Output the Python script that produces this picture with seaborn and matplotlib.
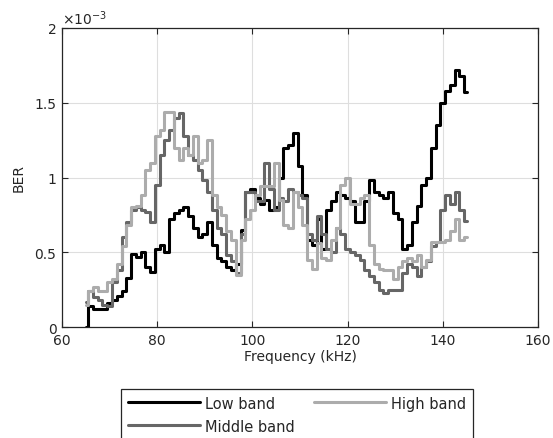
import matplotlib
matplotlib.use("Agg")
import matplotlib.pyplot as plt
import seaborn as sns
import pandas as pd

# frequency grid (kHz) and BER values (x 1e-3)
freq = list(range(65, 146))

low_band = [
    0.00, 0.14, 0.12, 0.12, 0.12, 0.16, 0.18, 0.21, 0.24, 0.33,
    0.49, 0.47, 0.50, 0.40, 0.37, 0.52, 0.55, 0.50, 0.72, 0.76,
    0.78, 0.80, 0.74, 0.66, 0.60, 0.62, 0.70, 0.55, 0.46, 0.44,
    0.40, 0.38, 0.42, 0.65, 0.90, 0.92, 0.86, 0.82, 0.85, 0.78,
    0.80, 1.00, 1.20, 1.22, 1.30, 1.08, 0.88, 0.58, 0.55, 0.72,
    0.52, 0.78, 0.84, 0.90, 0.88, 0.86, 0.84, 0.70, 0.70, 0.84,
    0.98, 0.90, 0.88, 0.86, 0.90, 0.76, 0.72, 0.52, 0.55, 0.70,
    0.81, 0.95, 1.00, 1.20, 1.35, 1.50, 1.58, 1.62, 1.72, 1.68,
    1.57,
]

middle_band = [
    0.17, 0.24, 0.20, 0.18, 0.15, 0.14, 0.30, 0.38, 0.60, 0.70,
    0.78, 0.80, 0.78, 0.77, 0.70, 0.95, 1.15, 1.25, 1.32, 1.40,
    1.43, 1.28, 1.15, 1.12, 1.05, 0.98, 0.90, 0.78, 0.66, 0.62,
    0.48, 0.44, 0.36, 0.62, 0.90, 0.90, 0.84, 0.84, 1.10, 0.92,
    0.78, 0.86, 0.84, 0.92, 0.90, 0.88, 0.86, 0.62, 0.58, 0.74,
    0.62, 0.52, 0.50, 0.66, 0.62, 0.52, 0.50, 0.48, 0.45, 0.38,
    0.34, 0.30, 0.25, 0.23, 0.25, 0.25, 0.25, 0.36, 0.42, 0.40,
    0.34, 0.40, 0.44, 0.54, 0.57, 0.78, 0.88, 0.82, 0.90, 0.78,
    0.71,
]

high_band = [
    0.15, 0.24, 0.27, 0.24, 0.24, 0.30, 0.32, 0.42, 0.54, 0.68,
    0.80, 0.81, 0.88, 1.05, 1.10, 1.28, 1.32, 1.44, 1.44, 1.20,
    1.12, 1.20, 1.15, 1.28, 1.10, 1.12, 1.25, 0.88, 0.80, 0.75,
    0.64, 0.58, 0.35, 0.58, 0.72, 0.78, 0.88, 0.94, 0.94, 0.94,
    1.10, 0.85, 0.68, 0.66, 0.90, 0.80, 0.68, 0.45, 0.39, 0.56,
    0.46, 0.45, 0.58, 0.66, 0.95, 1.00, 0.82, 0.82, 0.86, 0.88,
    0.55, 0.42, 0.39, 0.38, 0.38, 0.32, 0.40, 0.44, 0.46, 0.44,
    0.48, 0.40, 0.45, 0.57, 0.57, 0.57, 0.58, 0.64, 0.72, 0.58,
    0.60,
]

series_names = ["Low band", "Middle band", "High band"]
series_colors = ["#000000", "#666666", "#acacac"]

df = pd.concat([
    pd.DataFrame({"freq": freq, "ber": vals, "band": name})
    for name, vals in zip(series_names, [low_band, middle_band, high_band])
])

sns.set_style("whitegrid")
plt.rcParams["font.family"] = ["DejaVu Sans"]
plt.rcParams["font.size"] = 10

fig = plt.figure(figsize=(5.53, 4.39), dpi=100)
ax = fig.add_axes([62 / 553, 1 - 328 / 439, (538 - 62) / 553, (328 - 29) / 439])

sns.lineplot(data=df, x="freq", y="ber", hue="band", hue_order=series_names,
             palette=series_colors, linewidth=2.2, drawstyle="steps-mid",
             legend=False, ax=ax, estimator=None, sort=True)

ax.set_xlim(60, 160)
ax.set_ylim(0, 2)
ax.set_xticks([60, 80, 100, 120, 140, 160])
ax.set_yticks([0, 0.5, 1, 1.5, 2])
ax.set_yticklabels(["0", "0.5", "1", "1.5", "2"])
ax.set_xlabel("Frequency (kHz)", fontsize=10, color="#262626", labelpad=2)
ax.set_ylabel("BER", fontsize=10, color="#262626", labelpad=6)

ax.grid(True, color="#dedede", linewidth=0.8)
for sp in ax.spines.values():
    sp.set_visible(True)
    sp.set_color("#262626")
    sp.set_linewidth(0.9)
ax.tick_params(direction="in", length=4, width=0.8, colors="#262626",
               labelsize=10, top=True, right=True, bottom=True, left=True, pad=4)
ax.tick_params(axis="x", labeltop=False)
ax.tick_params(axis="y", labelright=False)

ax.text(0.0, 1.005, r"$\times10^{-3}$", transform=ax.transAxes,
        fontsize=10, color="#262626", ha="left", va="bottom")

handles = ax.get_lines()[:3]
leg = fig.legend(handles, series_names, ncol=2, loc="upper left",
                 bbox_to_anchor=(121 / 553, 1 - 390 / 439), borderaxespad=0,
                 fontsize=10.5, handlelength=5.0, handletextpad=0.3,
                 columnspacing=1.3, labelspacing=0.55, borderpad=0.45,
                 fancybox=False, framealpha=1, edgecolor="#262626")
leg.get_frame().set_linewidth(0.9)

fig.savefig("out.png", dpi=100)
